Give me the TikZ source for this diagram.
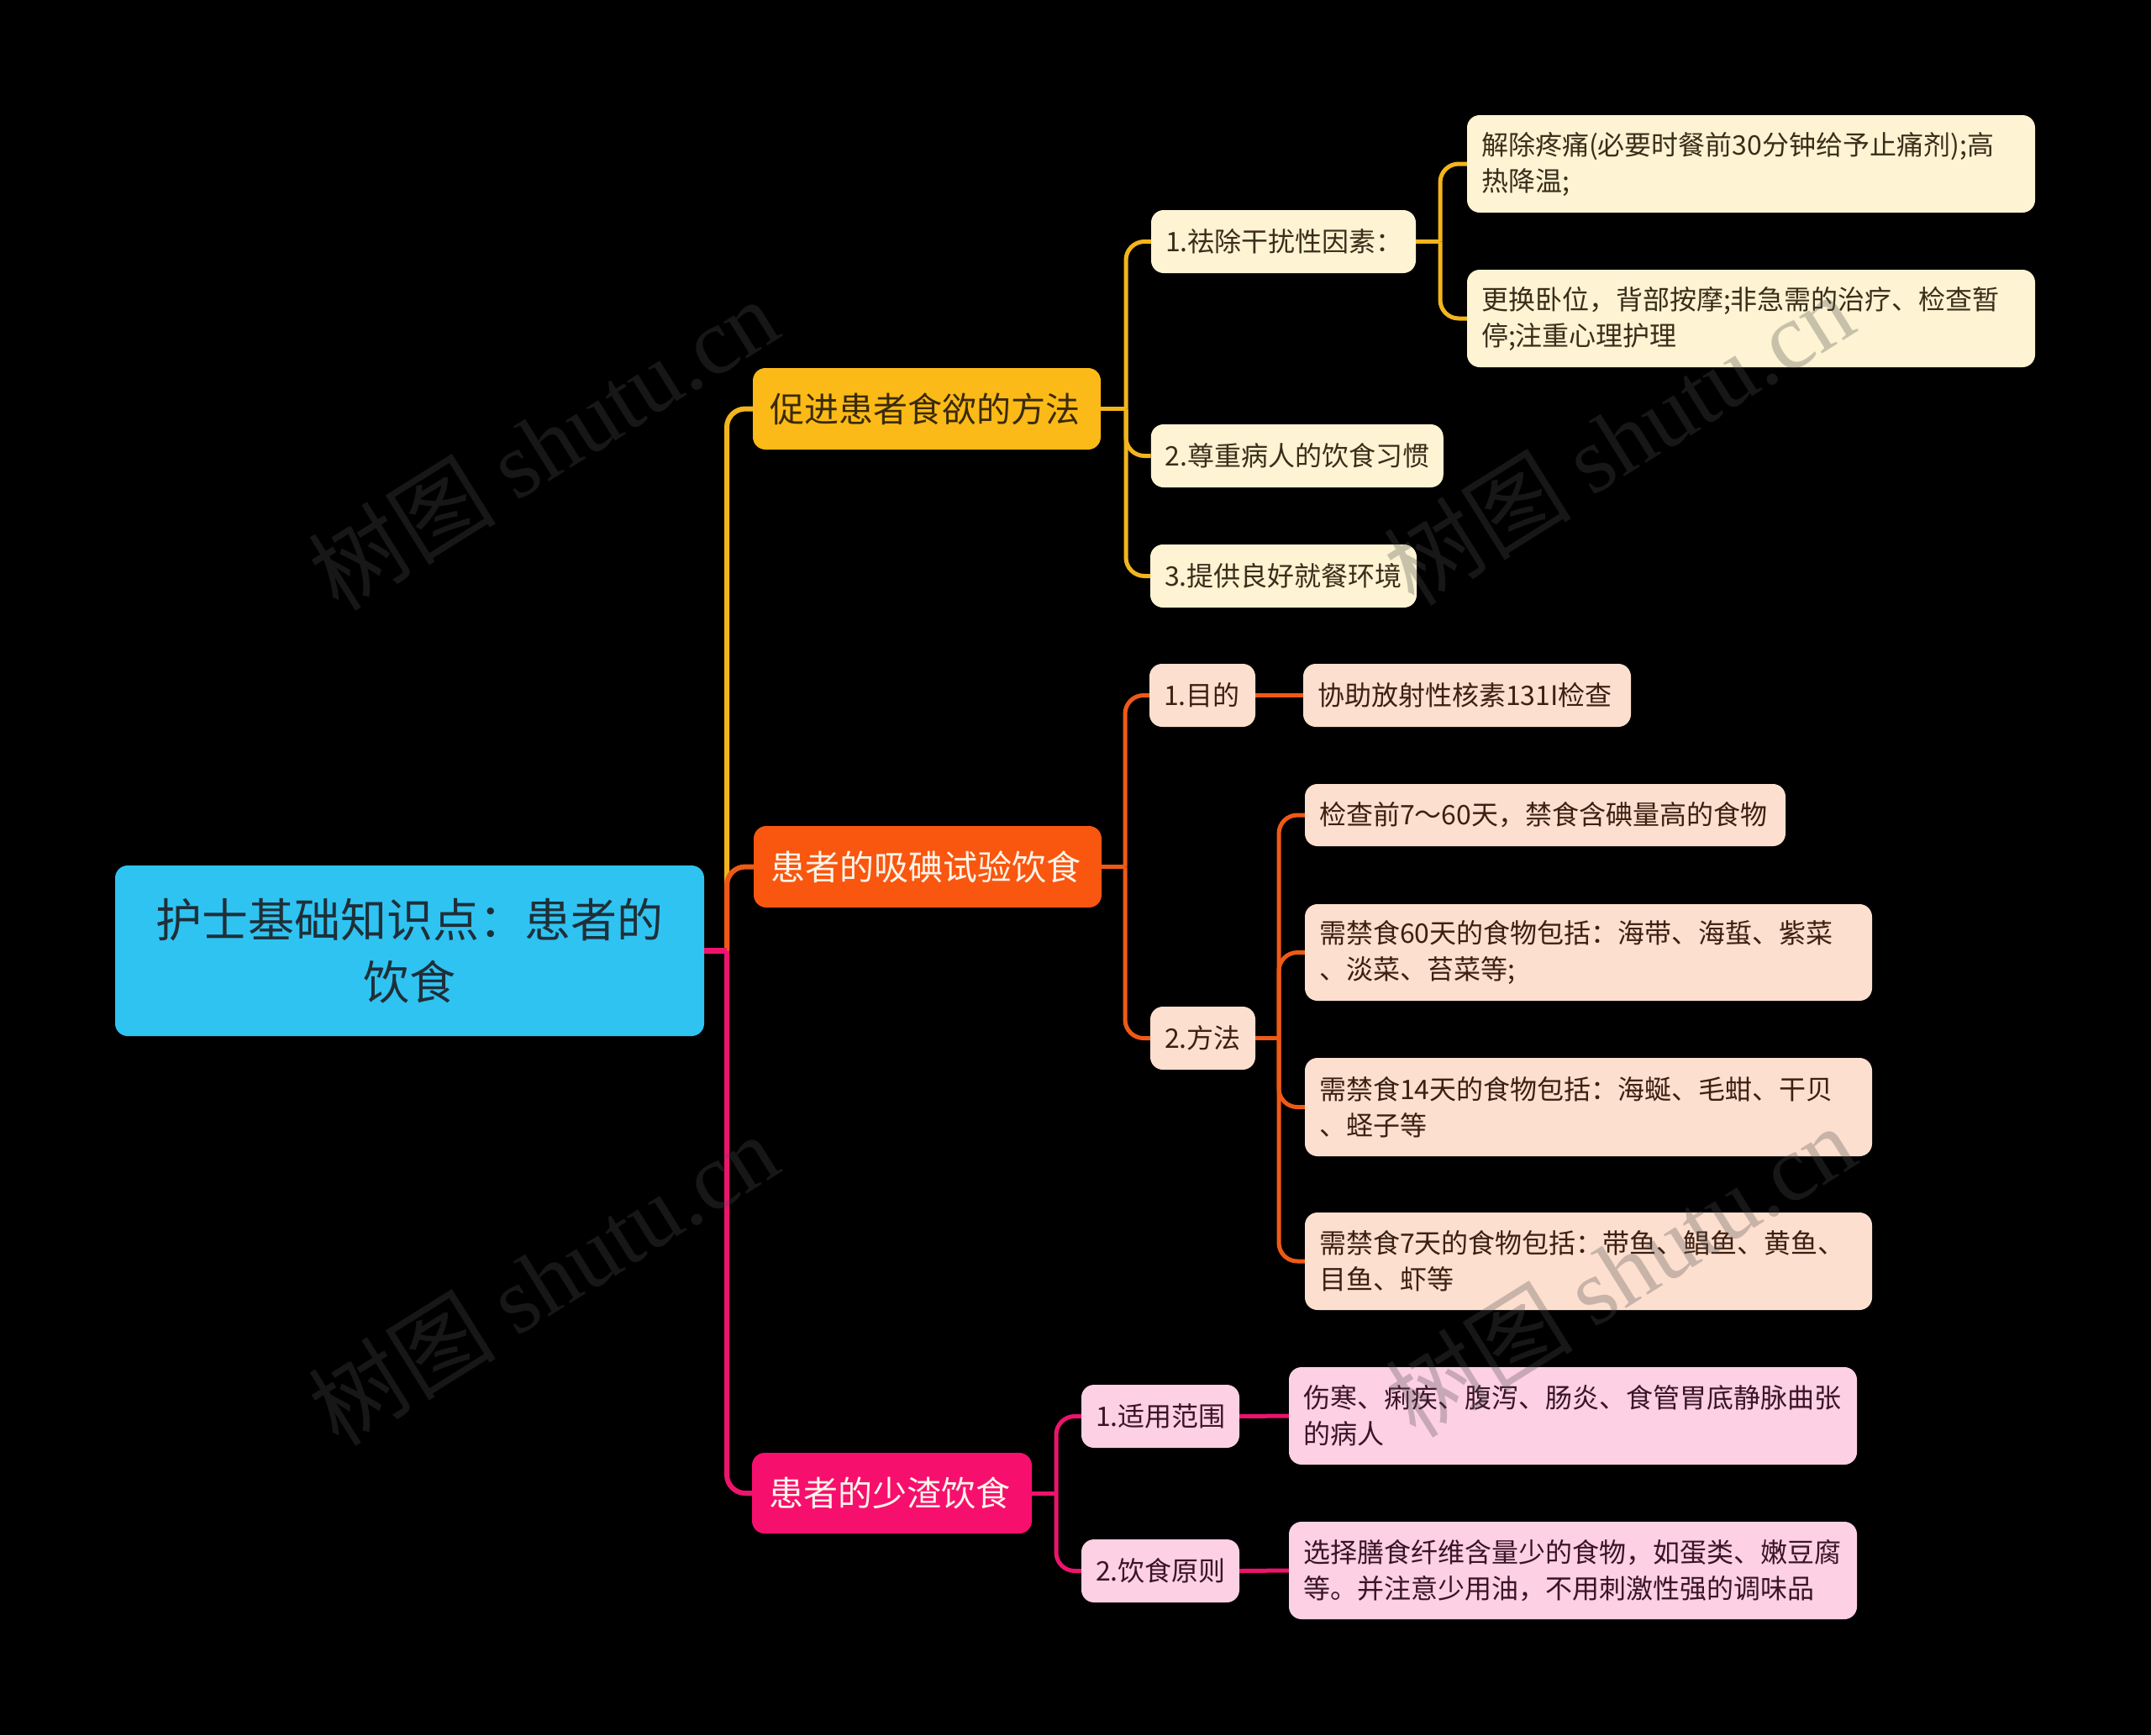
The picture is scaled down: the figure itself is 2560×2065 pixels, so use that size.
\documentclass[tikz,border=0pt]{standalone}
\usepackage{fontspec}
\setmainfont{Noto Sans CJK SC}
\newfontfamily\wmlatin{Liberation Serif}
\definecolor{cRoot}{HTML}{2FC3F2}
\definecolor{tRoot}{HTML}{1F2F38}
\definecolor{cY}{HTML}{FBBA17}
\definecolor{lY}{HTML}{F3B51C}
\definecolor{tY}{HTML}{3A2A08}
\definecolor{cO}{HTML}{F9560F}
\definecolor{lO}{HTML}{EE5A16}
\definecolor{cP}{HTML}{F70F6E}
\definecolor{lP}{HTML}{EC146D}
\definecolor{tW}{HTML}{FFF4E8}
\definecolor{fY}{HTML}{FEF3D3}
\definecolor{fO}{HTML}{FDDFCF}
\definecolor{fP}{HTML}{FDD0E4}
\definecolor{tYd}{HTML}{3A2E1A}
\definecolor{tOd}{HTML}{3E2013}
\definecolor{tPd}{HTML}{3A1527}
\definecolor{wmc}{HTML}{4E4E4E}
\begin{document}
\begin{tikzpicture}[x=1pt,y=-1pt,
  box/.style={rounded corners=15, inner ysep=0pt, anchor=center},
  lvroot/.style={box, fill=cRoot, text=tRoot, inner xsep=20pt, align=center,
     font=\fontsize{55}{74}\selectfont},
  lvone/.style={box, inner xsep=20pt, align=left, font=\fontsize{41}{50}\selectfont},
  lvtwo/.style={box, inner xsep=17pt, align=left, font=\fontsize{32}{43}\selectfont},
  yb/.style={lvtwo, fill=fY, text=tYd},
  ob/.style={lvtwo, fill=fO, text=tOd},
  pb/.style={lvtwo, fill=fP, text=tPd},
  conn/.style={line width=5pt, rounded corners=22},
  wm/.style={text=wmc, text opacity=0.3, font=\fontsize{112}{112}\selectfont, rotate=32}
]
\fill[black] (0,0) rectangle (2560,2065);

% root
\node[lvroot, text width=661pt, minimum height=203pt] (root) at (487.5,1131.5)
  {护士基础知识点：患者的\\饮食};

% level 1
\node[lvone, fill=cY, text=tY, text width=374pt, minimum height=97pt] (Y1) at (1103,486.5) {促进患者食欲的方法};
\node[lvone, fill=cO, text=tW, text width=374pt, minimum height=97pt] (O1) at (1104,1031.5) {患者的吸碘试验饮食};
\node[lvone, fill=cP, text=tW, text width=293pt, minimum height=96pt] (P1) at (1061.5,1777) {患者的少渣饮食};

% yellow level 2
\node[yb, text width=281pt, minimum height=75pt] (Y2a) at (1527.5,287.5) {1.祛除干扰性因素：};
\node[yb, text width=314pt, minimum height=75pt] (Y2b) at (1543.75,542.5) {2.尊重病人的饮食习惯};
\node[yb, text width=283pt, minimum height=75pt] (Y2c) at (1527.5,685.5) {3.提供良好就餐环境};
% yellow level 3
\node[yb, text width=642pt, minimum height=116pt] (Y3a) at (2084,195) {解除疼痛(必要时餐前30分钟给予止痛剂);高\\热降温;};
\node[yb, text width=642pt, minimum height=116pt] (Y3b) at (2084,379) {更换卧位，背部按摩;非急需的治疗、检查暂\\停;注重心理护理};

% orange level 2
\node[ob, text width=92pt, minimum height=75pt] (O2a) at (1431,827.5) {1.目的};
\node[ob, text width=91pt, minimum height=75pt] (O2b) at (1431.5,1235.5) {2.方法};
% orange level 3
\node[ob, text width=356pt, minimum height=75pt] (O3a) at (1746,827.5) {协助放射性核素131I检查};
\node[ob, text width=538pt, minimum height=74pt] (O3b) at (1839,970) {检查前7～60天，禁食含碘量高的食物};
\node[ob, text width=641pt, minimum height=115pt] (O3c) at (1890.5,1133.5) {需禁食60天的食物包括：海带、海蜇、紫菜\\、淡菜、苔菜等;};
\node[ob, text width=641pt, minimum height=117pt] (O3d) at (1890.5,1317.5) {需禁食14天的食物包括：海蜒、毛蚶、干贝\\、蛏子等};
\node[ob, text width=641pt, minimum height=116pt] (O3e) at (1890.5,1501) {需禁食7天的食物包括：带鱼、鲳鱼、黄鱼、\\目鱼、虾等};

% pink level 2
\node[pb, text width=154pt, minimum height=75pt] (P2a) at (1381,1685.5) {1.适用范围};
\node[pb, text width=154pt, minimum height=75pt] (P2b) at (1381,1869.5) {2.饮食原则};
% pink level 3
\node[pb, text width=642pt, minimum height=116pt] (P3a) at (1872,1685) {伤寒、痢疾、腹泻、肠炎、食管胃底静脉曲张\\的病人};
\node[pb, text width=642pt, minimum height=116pt] (P3b) at (1872,1869) {选择膳食纤维含量少的食物，如蛋类、嫩豆腐\\等。并注意少用油，不用刺激性强的调味品};

% junctions
\coordinate (j0) at (865,1131.5);
\coordinate (jy) at (1340,486.5);
\coordinate (jo) at (1339,1031.5);
\coordinate (jp) at (1257,1777);
\coordinate (jy2) at (1714,287.5);
\coordinate (jo2) at (1522,1235.5);

% root connectors
\draw[conn, line width=6pt, lY] (j0) |- (Y1.west);
\draw[conn, line width=6pt, lO] (j0) |- (O1.west);
\draw[conn, line width=6pt, lP] (j0) |- (P1.west);
\draw[line width=7pt, lP] (root.east) -- (j0);

% yellow connectors
\draw[conn, lY] (Y1.east) -- (jy);
\draw[conn, lY] (jy) |- (Y2a.west);
\draw[conn, lY] (jy) |- (Y2b.west);
\draw[conn, lY] (jy) |- (Y2c.west);
\draw[conn, lY] (Y2a.east) -- (jy2);
\draw[conn, lY] (jy2) |- (Y3a.west);
\draw[conn, lY] (jy2) |- (Y3b.west);

% orange connectors
\draw[conn, lO] (O1.east) -- (jo);
\draw[conn, lO] (jo) |- (O2a.west);
\draw[conn, lO] (jo) |- (O2b.west);
\draw[conn, lO] (O2a.east) -- (O3a.west);
\draw[conn, lO] (O2b.east) -- (jo2);
\draw[conn, lO] (jo2) |- (O3b.west);
\draw[conn, lO] (jo2) |- (O3c.west);
\draw[conn, lO] (jo2) |- (O3d.west);
\draw[conn, lO] (jo2) |- (O3e.west);

% pink connectors
\draw[conn, lP] (P1.east) -- (jp);
\draw[conn, lP] (jp) |- (P2a.west);
\draw[conn, lP] (jp) |- (P2b.west);
\draw[conn, lP] (P2a.east) -- (P3a.west);
\draw[conn, lP] (P2b.east) -- (P3b.west);

% watermarks
\node[wm] (wm1) at (646,528) {树图 {\wmlatin shutu.cn}};
\node[wm] (wm2) at (1926,522) {树图 {\wmlatin shutu.cn}};
\node[wm] (wm3) at (646,1522) {树图 {\wmlatin shutu.cn}};
\node[wm] (wm4) at (1928,1512) {树图 {\wmlatin shutu.cn}};
\end{tikzpicture}
\end{document}
